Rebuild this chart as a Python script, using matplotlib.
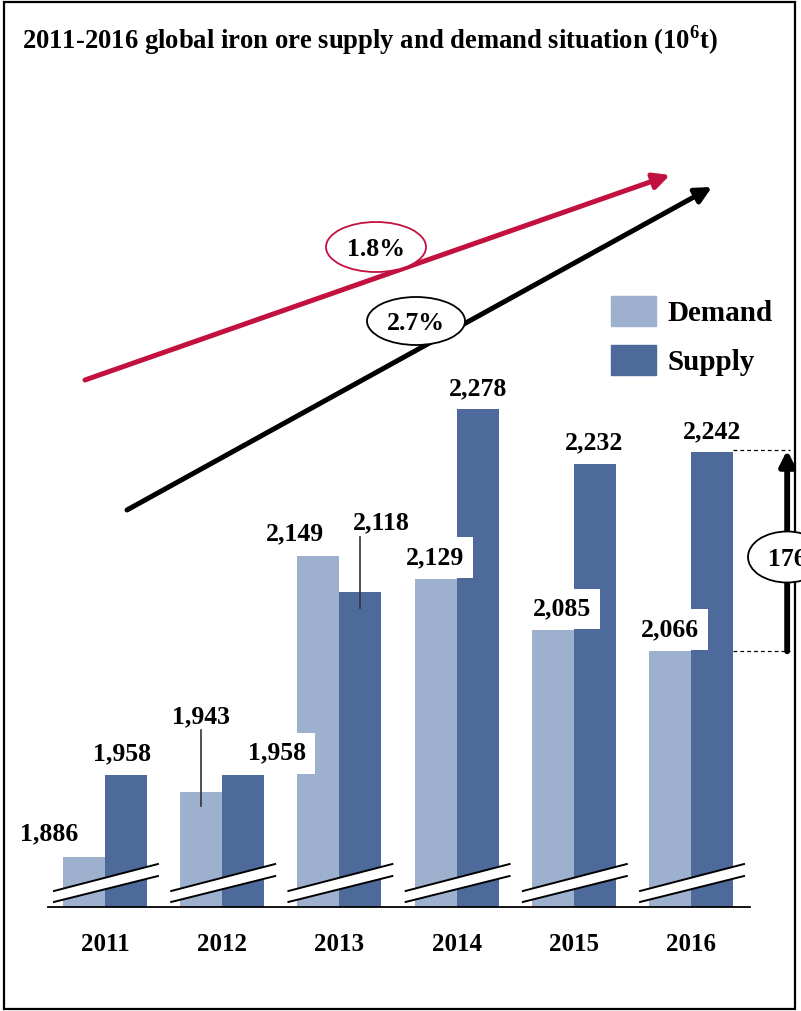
import numpy as np
import matplotlib
matplotlib.use("Agg")
import matplotlib.pyplot as plt
from matplotlib.patches import Ellipse, Rectangle, Polygon, Patch

plt.rcParams['font.family'] = ['Liberation Serif', 'DejaVu Serif']
plt.rcParams['font.weight'] = 'bold'
plt.rcParams['mathtext.fontset'] = 'custom'
plt.rcParams['mathtext.rm'] = 'Liberation Serif'
plt.rcParams['mathtext.bf'] = 'Liberation Serif:bold'

years = ['2011', '2012', '2013', '2014', '2015', '2016']
demand = [1886, 1943, 2149, 2129, 2085, 2066]
supply = [1958, 1958, 2118, 2278, 2232, 2242]

# label anchor (x offset from group centre, value)
demand_lbl = [(-0.478, 1906), (-0.181, 2009), (-0.379, 2169), (-0.184, 2148), (-0.101, 2103), (-0.179, 2085)]
supply_lbl = [(0.145, 1976), (0.468, 1977), (0.355, 2178), (0.183, 2296), (0.172, 2248), (0.179, 2258)]
leaders = {('d', 1): 12, ('s', 2): 14}   # which labels get a leader line

growth_demand = '1.8%'
growth_supply = '2.7%'

col_d = '#9DB0CE'
col_s = '#4D6A9A'
red = '#C3113F'

W, H = 801, 1011
fig = plt.figure(figsize=(W / 100, H / 100), dpi=100)

def fx(px):
    return px / W

def fy(py):
    return 1 - py / H

ax = fig.add_axes([fx(48), fy(907), (750 - 48) / W, (907 - 100) / H])
x = np.arange(len(years))
bw = 0.358
ax.bar(x - bw / 2, demand, bw, color=col_d, zorder=2)
ax.bar(x + bw / 2, supply, bw, color=col_s, zorder=2)
ax.set_xlim(-0.486, 5.503)
ax.set_ylim(1842.3, 2548.3)

for s in ['top', 'right', 'left']:
    ax.spines[s].set_visible(False)
ax.spines['bottom'].set_linewidth(1.3)
ax.set_yticks([])
ax.set_xticks(x, years, fontsize=18, fontweight='bold')
ax.tick_params(axis='x', length=0, pad=19)

# axis break marks
y0 = 1842.3
for xi in x:
    xl, xr = xi - 0.435, xi + 0.452
    lo = [y0 + 4.4, y0 + 27.1]
    hi = [y0 + 14.0, y0 + 37.6]
    ax.add_patch(Polygon([(xl, lo[0]), (xr, lo[1]), (xr, hi[1]), (xl, hi[0])],
                         closed=True, facecolor='white', edgecolor='none',
                         zorder=3, clip_on=False))
    ax.plot([xl, xr], lo, color='black', lw=1.4, zorder=4, clip_on=False)
    ax.plot([xl, xr], hi, color='black', lw=1.4, zorder=4, clip_on=False)

box = dict(facecolor='white', edgecolor='none', pad=6.5)
for kind, vals, lbl in (('d', demand, demand_lbl), ('s', supply, supply_lbl)):
    for i in range(len(years)):
        dx, ly = lbl[i]
        ax.text(x[i] + dx, ly, f'{vals[i]:,}', ha='center', va='center',
                fontsize=18.5, fontweight='bold', bbox=box, zorder=5)
        if (kind, i) in leaders:
            bx = x[i] - bw / 2 if kind == 'd' else x[i] + bw / 2
            ax.plot([bx, bx], [vals[i] - leaders[(kind, i)], ly - 12],
                    color='#333333', lw=1.2, zorder=6)

# gap between supply and demand in 2016
xr0 = x[-1] + bw
xr1 = 5.845
ax.plot([xr0, xr1], [supply[-1]] * 2, color='black', lw=0.9, ls=(0, (3, 2.5)),
        clip_on=False, zorder=7)
ax.plot([xr0, xr1], [demand[-1]] * 2, color='black', lw=0.9, ls=(0, (3, 2.5)),
        clip_on=False, zorder=7)
ax.annotate('', xy=(5.82, supply[-1]), xytext=(5.82, demand[-1]),
            arrowprops=dict(arrowstyle='-|>', lw=4.2, color='black', mutation_scale=22,
                            shrinkA=0, shrinkB=0), annotation_clip=False)

# title and frame
fig.text(fx(22), fy(40), '2011-2016 global iron ore supply and demand situation (10$^{\\mathbf{6}}$t)',
         fontsize=19.2, fontweight='bold', ha='left', va='center')
fig.add_artist(Rectangle((fx(4), fy(1009)), 791 / W, 1007 / H, transform=fig.transFigure,
                         fill=False, edgecolor='black', lw=1.6, zorder=5))
fig.add_artist(Ellipse((fx(787), fy(557)), 78 / W, 51 / H, transform=fig.transFigure,
                       facecolor='white', edgecolor='black', lw=1.3, zorder=6))
fig.text(fx(787), fy(559), f'{supply[-1] - demand[-1]}', fontsize=18.5, fontweight='bold',
         ha='center', va='center', zorder=7)

# growth arrows
fig.add_artist(plt.Annotation('', xy=(fx(670), fy(175)), xytext=(fx(85), fy(380)),
                              xycoords='figure fraction', textcoords='figure fraction',
                              arrowprops=dict(arrowstyle='-|>', lw=3.6, color=red,
                                              mutation_scale=24, shrinkA=0, shrinkB=0)))
fig.add_artist(plt.Annotation('', xy=(fx(712), fy(187)), xytext=(fx(127), fy(510)),
                              xycoords='figure fraction', textcoords='figure fraction',
                              arrowprops=dict(arrowstyle='-|>', lw=3.6, color='black',
                                              mutation_scale=24, shrinkA=0, shrinkB=0)))
fig.add_artist(Ellipse((fx(376), fy(247)), 100 / W, 50 / H, transform=fig.transFigure,
                       facecolor='white', edgecolor=red, lw=1.3, zorder=6))
fig.add_artist(Ellipse((fx(416), fy(321)), 98 / W, 48 / H, transform=fig.transFigure,
                       facecolor='white', edgecolor='black', lw=1.3, zorder=6))
fig.text(fx(376), fy(249), growth_demand, fontsize=18.5, fontweight='bold', ha='center', va='center', zorder=7)
fig.text(fx(416), fy(323), growth_supply, fontsize=18.5, fontweight='bold', ha='center', va='center', zorder=7)

handles = [Patch(color=col_d, label='Demand'), Patch(color=col_s, label='Supply')]
fig.legend(handles=handles, loc='upper left', bbox_to_anchor=(fx(611), fy(296)),
           frameon=False, borderpad=0, borderaxespad=0,
           handlelength=1.55, handleheight=1.2, handletextpad=0.4, labelspacing=0.64,
           prop={'weight': 'bold', 'size': 21})

fig.savefig('out.png', dpi=100)
